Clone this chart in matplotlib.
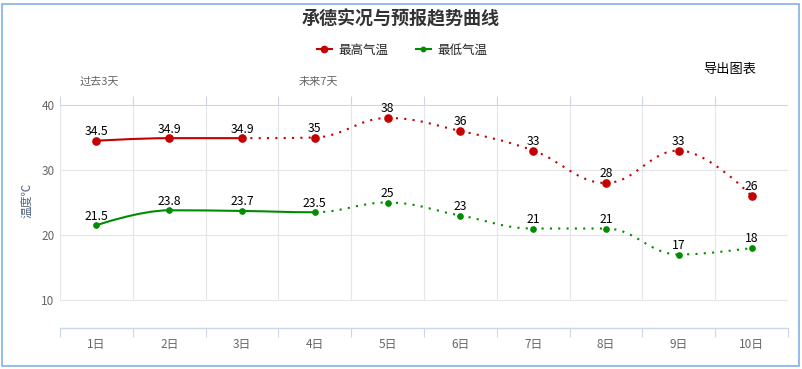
import numpy as np
import matplotlib
matplotlib.use('Agg')
import matplotlib.pyplot as plt
from matplotlib.path import Path
from matplotlib.patches import PathPatch, Rectangle
from matplotlib.lines import Line2D

plt.rcParams['font.family'] = ['Noto Sans CJK SC', 'DejaVu Sans']

days = ['1日', '2日', '3日', '4日', '5日', '6日', '7日', '8日', '9日', '10日']
high = [34.5, 34.9, 34.9, 35, 38, 36, 33, 28, 33, 26]
low = [21.5, 23.8, 23.7, 23.5, 25, 23, 21, 21, 17, 18]
high_labels = ['34.5', '34.9', '34.9', '35', '38', '36', '33', '28', '33', '26']
low_labels = ['21.5', '23.8', '23.7', '23.5', '25', '23', '21', '21', '17', '18']
high_solid_until = 3   # observed days drawn solid
low_solid_until = 4
yticks = [10, 20, 30, 40]

RED = '#c40000'
GREEN = '#008c00'
W, H = 803, 369


def spline_segments(xs, ys, smoothing=1.5):
    # highcharts style spline: one cubic bezier per pair of points
    n = len(xs)
    lc = [(xs[i], ys[i]) for i in range(n)]
    rc = [(xs[i], ys[i]) for i in range(n)]
    d = smoothing + 1
    for i in range(1, n - 1):
        x, y = xs[i], ys[i]
        lx, ly = xs[i - 1], ys[i - 1]
        nx, ny = xs[i + 1], ys[i + 1]
        lcx = (smoothing * x + lx) / d
        lcy = (smoothing * y + ly) / d
        rcx = (smoothing * x + nx) / d
        rcy = (smoothing * y + ny) / d
        if rcx != lcx:
            corr = (rcy - lcy) * (rcx - x) / (rcx - lcx) + y - rcy
            lcy += corr
            rcy += corr
        if lcy > ly and lcy > y:
            lcy = max(ly, y); rcy = 2 * y - lcy
        elif lcy < ly and lcy < y:
            lcy = min(ly, y); rcy = 2 * y - lcy
        if rcy > ny and rcy > y:
            rcy = max(ny, y); lcy = 2 * y - rcy
        elif rcy < ny and rcy < y:
            rcy = min(ny, y); lcy = 2 * y - rcy
        lc[i] = (lcx, lcy)
        rc[i] = (rcx, rcy)
    segs = []
    for i in range(1, n):
        segs.append([(xs[i - 1], ys[i - 1]), rc[i - 1], lc[i], (xs[i], ys[i])])
    return segs


def draw_series(ax, vals, labels, color, solid_until, msize):
    xs = np.arange(1, len(vals) + 1)
    segs = spline_segments(list(xs), list(vals))
    codes = [Path.MOVETO, Path.CURVE4, Path.CURVE4, Path.CURVE4]
    for i, seg in enumerate(segs):
        solid = i < solid_until - 1
        patch = PathPatch(Path(seg, codes), fill=False, edgecolor=color,
                          lw=1.5, capstyle='butt',
                          linestyle='-' if solid else (0, (1, 3)), zorder=3)
        ax.add_patch(patch)
    ax.plot(xs, vals, 'o', color=color, ms=msize, mec=color, zorder=4)
    for x, v, t in zip(xs, vals, labels):
        ax.annotate(t, (x, v), xytext=(0, 4), textcoords='offset points',
                    ha='center', va='baseline', fontsize=8.8, color='black',
                    zorder=5)


fig = plt.figure(figsize=(W / 100, H / 100), dpi=100)
ax = fig.add_axes([60 / W, 1 - 328 / H, 728 / W, 232 / H])
ylo = 10 - 28 / 6.5
yhi = 40 + 9 / 6.5
ax.set_xlim(0.5, len(days) + 0.5)
ax.set_ylim(ylo, yhi)
for s in ['top', 'left', 'right']:
    ax.spines[s].set_visible(False)
ax.spines['bottom'].set_color('#ccd6eb')
ax.spines['bottom'].set_linewidth(1)

bounds = np.arange(0.5, len(days) + 1, 1)
for y in yticks[:-1]:
    ax.axhline(y, color='#e6e6e6', lw=0.8, zorder=1)
ax.axhline(yticks[-1], color='#ccd6eb', lw=0.8, zorder=1)
ax.vlines(bounds, yticks[0], yticks[-1], color='#e6e6e6', lw=0.8, zorder=1)
ax.vlines(bounds, yticks[-1], yhi, color='#ccd6eb', lw=0.8, zorder=1)

ax.set_xticks(np.arange(1, len(days) + 1))
ax.set_xticklabels(days)
ax.set_xticks(bounds, minor=True)
ax.tick_params(axis='x', which='major', length=0, pad=7, labelsize=8.5,
               labelcolor='#666666')
ax.tick_params(axis='x', which='minor', length=6.5, width=0.8,
               color='#ccd6eb', direction='out')
ax.set_yticks(yticks)
ax.tick_params(axis='y', length=0, pad=4, labelsize=8.5, labelcolor='#666666')

draw_series(ax, high, high_labels, RED, high_solid_until, 5.2)
draw_series(ax, low, low_labels, GREEN, low_solid_until, 3.8)

fig.text(401 / W, 1 - 19 / H, '承德实况与预报趋势曲线', ha='center', va='center',
         fontsize=13, fontweight='bold', color='#333333')
fig.text(99 / W, 1 - 82 / H, '过去3天', ha='center', va='center',
         fontsize=8, color='#666666')
fig.text(318 / W, 1 - 82 / H, '未来7天', ha='center', va='center',
         fontsize=8, color='#666666')
fig.text(730 / W, 1 - 69 / H, '导出图表', ha='center', va='center',
         fontsize=9.5, color='black')
fig.text(27 / W, 1 - 200 / H, '温度℃', ha='center', va='center',
         rotation=90, fontsize=8.5, color='#4f6480')

handles = [Line2D([], [], color=RED, lw=1.5, marker='o', ms=4.5),
           Line2D([], [], color=GREEN, lw=1.5, marker='o', ms=3.2)]
fig.legend(handles, ['最高气温', '最低气温'], loc='center',
           bbox_to_anchor=(402 / W, 1 - 50 / H), ncol=2, frameon=False,
           fontsize=9, handlelength=1.2, handletextpad=0.5, columnspacing=2.2,
           labelcolor='#222222')

fig.patches.append(Rectangle((2.5 / W, 3.5 / H), 797 / W, 362 / H,
                             transform=fig.transFigure, fill=False,
                             edgecolor='#7fb2e5', lw=1.2))

fig.savefig('out.png', dpi=100)
